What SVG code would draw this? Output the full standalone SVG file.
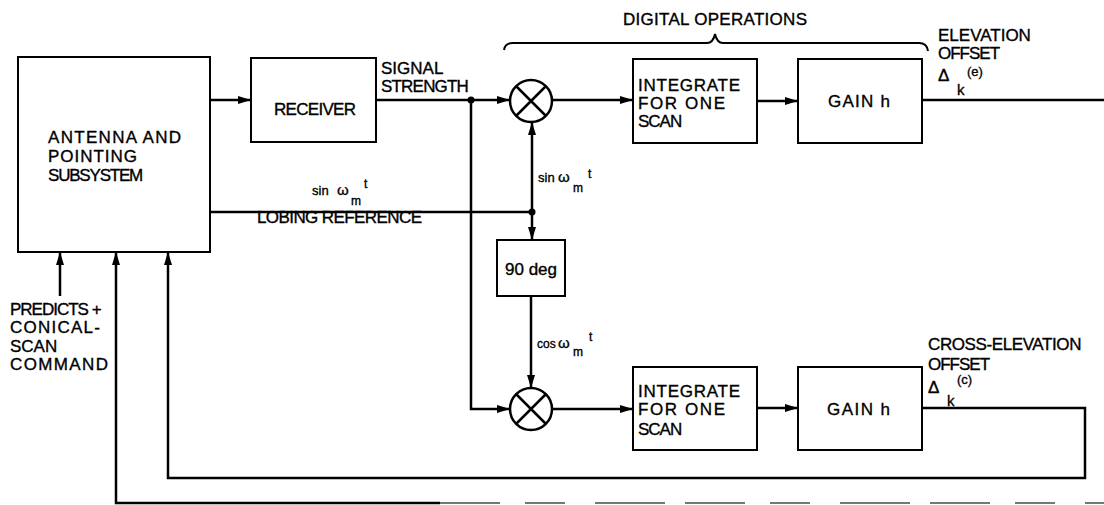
<svg xmlns="http://www.w3.org/2000/svg" width="1104" height="505" viewBox="0 0 1104 505">
<defs>
<marker id="ah" markerWidth="14" markerHeight="10" refX="13" refY="5" orient="auto" markerUnits="userSpaceOnUse"><path d="M0,1 L13,5 L0,9 Z" fill="#000"/></marker>
</defs>
<style>
.box{fill:#fff;stroke:#000;stroke-width:2}
.ln{fill:none;stroke:#000;stroke-width:2.5}
.t{font-family:"Liberation Sans",Arial,sans-serif;font-size:17px;fill:#000;stroke:#000;stroke-width:0.35}
.s{font-size:13px}
.w{font-size:15px}
.xs{font-size:12px}
.dot{fill:#000}
</style>
<rect width="1104" height="505" fill="#fff"/>

<g id="connectors">
  <path class="ln" d="M210,100 H251" marker-end="url(#ah)"/>
  <path class="ln" d="M376,100 H510" marker-end="url(#ah)"/>
  <path class="ln" d="M471,100 V409 H510" marker-end="url(#ah)"/>
  <path class="ln" d="M552,100 H633" marker-end="url(#ah)"/>
  <path class="ln" d="M757,101 H798" marker-end="url(#ah)"/>
  <path class="ln" d="M922,100 H1104"/>
  <path class="ln" d="M210,212 H532"/>
  <path class="ln" d="M532,212 V122" marker-end="url(#ah)"/>
  <path class="ln" d="M532,212 V240" marker-end="url(#ah)"/>
  <path class="ln" d="M531,296 V388" marker-end="url(#ah)"/>
  <path class="ln" d="M552,409 H633" marker-end="url(#ah)"/>
  <path class="ln" d="M757,408 H798" marker-end="url(#ah)"/>
  <path class="ln" d="M922,408 H1085 V478 H168 V252" marker-end="url(#ah)"/>
  <path class="ln" d="M60,296 V252" marker-end="url(#ah)"/>
  <path class="ln" d="M440,503 H116 V252" marker-end="url(#ah)"/>
  <path d="M440,503 H1104" fill="none" stroke="#777" stroke-width="2" stroke-dasharray="60 25 40 30 70 20"/>
  <circle class="dot" cx="471" cy="100" r="3.5"/>
  <circle class="dot" cx="532" cy="212" r="3.5"/>
  <path d="M504,50 Q505,43 513,43 H707 Q713,43 715,34 Q717,43 723,43 H919 Q927,43 928,51" fill="none" stroke="#000" stroke-width="2"/>
</g>

<g id="antenna">
  <rect class="box" x="18" y="57" width="192" height="195"/>
  <text class="t" x="48" y="143" textLength="133">ANTENNA AND</text>
  <text class="t" x="48" y="162" textLength="89">POINTING</text>
  <text class="t" x="48" y="181" letter-spacing="-1.2">SUBSYSTEM</text>
</g>

<g id="receiver">
  <rect class="box" x="251" y="58" width="125" height="84"/>
  <text class="t" x="274" y="115" font-size="16" letter-spacing="-0.7">RECEIVER</text>
</g>

<g id="mult-upper">
  <circle cx="531" cy="101" r="21" fill="#fff" stroke="#000" stroke-width="2.5"/>
  <path d="M516,86 L546,116 M546,86 L516,116" stroke="#000" stroke-width="2.5"/>
</g>

<g id="mult-lower">
  <circle cx="531" cy="409" r="21" fill="#fff" stroke="#000" stroke-width="2.5"/>
  <path d="M516,394 L546,424 M546,394 L516,424" stroke="#000" stroke-width="2.5"/>
</g>

<g id="phase">
  <rect class="box" x="497" y="240" width="68" height="56"/>
  <text class="t" x="505" y="275">90 deg</text>
</g>

<g id="integrate-upper">
  <rect class="box" x="633" y="59" width="124" height="84"/>
  <text class="t" x="638" y="91" textLength="102">INTEGRATE</text>
  <text class="t" x="638" y="109" textLength="87">FOR ONE</text>
  <text class="t" x="638" y="127" letter-spacing="-1">SCAN</text>
</g>

<g id="gain-upper">
  <rect class="box" x="798" y="59" width="124" height="84"/>
  <text class="t" x="828" y="107" textLength="62">GAIN h</text>
</g>

<g id="integrate-lower">
  <rect class="box" x="633" y="367" width="124" height="83"/>
  <text class="t" x="638" y="397" textLength="102">INTEGRATE</text>
  <text class="t" x="638" y="415" textLength="87">FOR ONE</text>
  <text class="t" x="638" y="435" letter-spacing="-1">SCAN</text>
</g>

<g id="gain-lower">
  <rect class="box" x="798" y="367" width="124" height="83"/>
  <text class="t" x="827" y="415" textLength="63">GAIN h</text>
</g>

<g id="labels">
  <text class="t" x="381" y="74">SIGNAL</text>
  <text class="t" x="381" y="92" letter-spacing="-0.8">STRENGTH</text>
  <text class="t" x="623" y="25" textLength="184">DIGITAL OPERATIONS</text>
  <text class="t" x="938" y="41">ELEVATION</text>
  <text class="t" x="938" y="59" font-size="16" letter-spacing="-1">OFFSET</text>
  <text class="t" x="938" y="81" font-size="18">Δ</text>
  <text class="t w" x="957" y="95">k</text>
  <text class="t s" x="967" y="76">(e)</text>
  <text class="t" x="928" y="350" letter-spacing="-0.4">CROSS-ELEVATION</text>
  <text class="t" x="928" y="370" font-size="16" letter-spacing="-1">OFFSET</text>
  <text class="t" x="928" y="393" font-size="18">Δ</text>
  <text class="t w" x="947" y="406">k</text>
  <text class="t s" x="957" y="384">(c)</text>
  <text class="t" x="257" y="223" font-size="16" textLength="165">LOBING REFERENCE</text>
  <text class="t s" x="312" y="195">sin</text>
  <text class="t w" x="337" y="195">ω</text>
  <text class="t xs" x="351" y="205">m</text>
  <text class="t xs" x="364" y="188">t</text>
  <text class="t s" x="538" y="182">sin</text>
  <text class="t w" x="558" y="182">ω</text>
  <text class="t xs" x="573" y="192">m</text>
  <text class="t xs" x="588" y="178">t</text>
  <text class="t xs" x="537" y="348">cos</text>
  <text class="t w" x="558" y="348">ω</text>
  <text class="t xs" x="573" y="356">m</text>
  <text class="t xs" x="589" y="341">t</text>
  <text class="t" x="10" y="315" letter-spacing="-1">PREDICTS +</text>
  <text class="t" x="10" y="333" textLength="90">CONICAL-</text>
  <text class="t" x="10" y="352">SCAN</text>
  <text class="t" x="10" y="370" textLength="98">COMMAND</text>
</g>
</svg>
